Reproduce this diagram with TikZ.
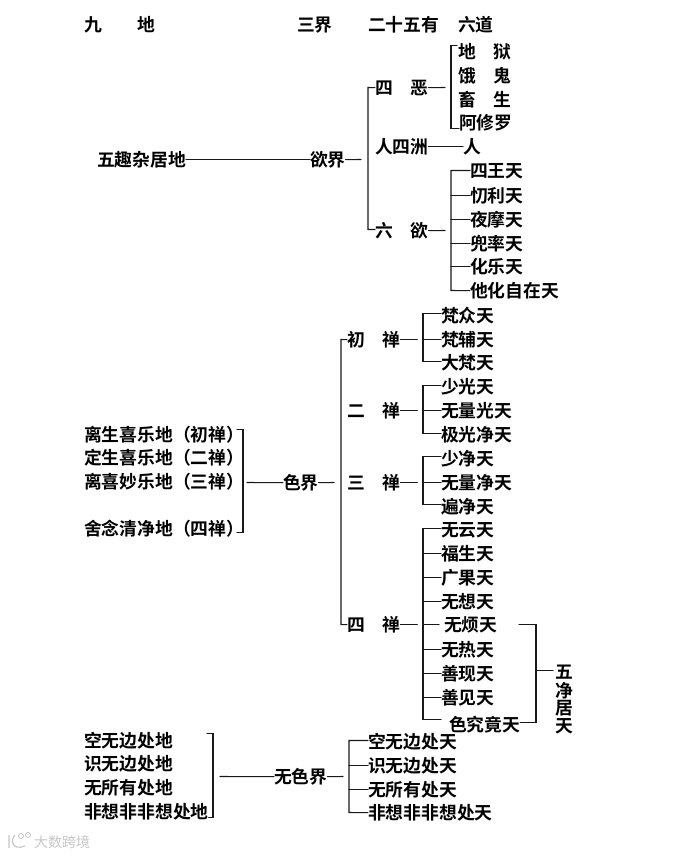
\documentclass[tikz,border=0pt]{standalone}
\usepackage{fontspec}
\setmainfont{Noto Sans CJK SC}[BoldFont={Noto Sans CJK SC Bold}]
\tikzset{x=1pt,y=-1pt,
  lab/.style={anchor=west,inner sep=0pt,outer sep=0pt,yshift=-0.6pt,font=\fontsize{17.8}{18}\selectfont\bfseries,text=black},
  ln/.style={draw=black!90,line width=1.05pt,line cap=round,line join=miter},
  mark gray/.style={anchor=west,inner sep=0pt,font=\fontsize{14}{15}\selectfont,text=black!22}}
\begin{document}
\begin{tikzpicture}
\useasboundingbox[fill=white] (0,0) rectangle (676,856);
% headers
\node[lab] (h1) at (84,24) {九　　地};
\node[lab] (h2) at (297,24) {三界};
\node[lab] (h3) at (368,24) {二十五有};
\node[lab] (h4) at (458,24) {六道};
% desire realm
\node[lab] (wq) at (97,159) {五趣杂居地};
\node[lab] (yj) at (310,159) {欲界};
\node[lab] (se) at (375,87) {四　恶};
\node[lab] (rz) at (375,146) {人四洲};
\node[lab] (ly) at (375,230) {六　欲};
\node[lab] (a1) at (458,51) {地　狱};
\node[lab] (a2) at (458,75) {饿　鬼};
\node[lab] (a3) at (458,99) {畜　生};
\node[lab] (a4) at (459,122) {阿修罗};
\node[lab] (ren) at (463,146) {人};
\node[lab] (b1) at (470,171) {四王天};
\node[lab] (b2) at (470,195) {忉利天};
\node[lab] (b3) at (470,219) {夜摩天};
\node[lab] (b4) at (470,243) {兜率天};
\node[lab] (b5) at (470,266) {化乐天};
\node[lab] (b6) at (470,290) {他化自在天};
\draw[ln] (wq.east) -- (yj.west);
\draw[ln] (yj.east) -- (361,159.5);
\draw[ln] (se.west) -- (368,87.5) -- (368,229.5) -- (ly.west |- 0,229.5);
\draw[ln] (se.east) -- (445,87.5);
\draw[ln] (rz.east) -- (ren.west);
\draw[ln] (ly.east) -- (445,230.5);
\draw[ln] (457,45.5) -- (451,45.5) -- (451,128.5) -- (a4.west |- 0,128.5);
\draw[ln] (b1.west |- 0,170.5) -- (451,170.5) -- (451,290.5) -- (b6.west);
\foreach \n in {b2,b3,b4,b5} \draw[ln] (451,0 |- \n.west) -- (\n.west);
% form realm
\node[lab] (l1) at (84,434) {离生喜乐地（初禅）};
\node[lab] (l2) at (84,457) {定生喜乐地（二禅）};
\node[lab] (l3) at (84,481) {离喜妙乐地（三禅）};
\node[lab] (l4) at (84,528) {舍念清净地（四禅）};
\node[lab] (sj) at (283,482) {色界};
\node[lab] (c1) at (347,339) {初　禅};
\node[lab] (c2) at (347,410) {二　禅};
\node[lab] (c3) at (347,482) {三　禅};
\node[lab] (c4) at (347,624) {四　禅};
\draw[ln] (237,429.5) -- (243,429.5) -- (243,532.5) -- (237,532.5);
\draw[ln] (247,482.5) -- (sj.west);
\draw[ln] (sj.east) -- (334,482.5);
\draw[ln] (c1.west) -- (341,339.5) -- (341,624.5) -- (c4.west);
\foreach \n in {c1,c2,c3,c4} \draw[ln] (\n.east) -- ([xshift=17pt]\n.east);
\foreach \i/\y/\t in {1/315/梵众天,2/339/梵辅天,3/362/大梵天,4/386/少光天,5/410/无量光天,6/434/极光净天,7/458/少净天,8/482/无量净天,9/506/遍净天,10/530/无云天,11/553/福生天,12/577/广果天,13/601/无想天,15/649/无热天,16/673/善现天,17/697/善见天}
  \node[lab] (d\i) at (441,\y) {\t};
\node[lab] (d14) at (444,624) {无烦天};
\node[lab] (d18) at (449,724) {色究竟天};
\draw[ln] (d1.west |- 0,313.5) -- (423,313.5) -- (423,361.5) -- (d3.west |- 0,361.5);
\draw[ln] (423,0 |- d2.west) -- (d2.west);
\draw[ln] (d4.west |- 0,385.5) -- (423,385.5) -- (423,433.5) -- (d6.west |- 0,433.5);
\draw[ln] (423,0 |- d5.west) -- (d5.west);
\draw[ln] (d7.west |- 0,456.5) -- (423,456.5) -- (423,504.5) -- (d9.west |- 0,504.5);
\draw[ln] (423,0 |- d8.west) -- (d8.west);
\draw[ln] (d10.west |- 0,528.5) -- (423,528.5) -- (423,719.5) -- (441,719.5);
\foreach \n in {d11,d12,d13,d15,d16,d17} \draw[ln] (423,0 |- \n.west) -- (\n.west);
\draw[ln] (423,624.5) -- (439,624.5);
% five pure abodes
\node[lab] (p1) at (555,672) {五};
\node[lab] (p2) at (555,690) {净};
\node[lab] (p3) at (555,708) {居};
\node[lab] (p4) at (555,726) {天};
\draw[ln] (519,624.5) -- (536,624.5) -- (536,722.5) -- (d18.east |- 0,722.5);
\draw[ln] (536,670.5) -- (553,670.5);
% formless realm
\node[lab] (e1) at (84,740) {空无边处地};
\node[lab] (e2) at (84,763) {识无边处地};
\node[lab] (e3) at (84,787) {无所有处地};
\node[lab] (e4) at (84,811) {非想非非想处地};
\node[lab] (wsj) at (274,776) {无色界};
\node[lab] (f1) at (368,741) {空无边处天};
\node[lab] (f2) at (368,765) {识无边处天};
\node[lab] (f3) at (368,789) {无所有处天};
\node[lab] (f4) at (368,812) {非想非非想处天};
\draw[ln] (207,733.5) -- (213,733.5) -- (213,817.5) -- (e4.east |- 0,817.5);
\draw[ln] (220,776.5) -- (wsj.west);
\draw[ln] (wsj.east) -- (343,776.5);
\draw[ln] (f1.west |- 0,740.5) -- (349,740.5) -- (349,812.5) -- (f4.west);
\foreach \n in {f2,f3} \draw[ln] (349,0 |- \n.west) -- (\n.west);
% watermark
\node[mark gray] (wm) at (34,842) {大数跨境};
\draw[black!22,line width=1.2pt] (9,835) -- (9,848) (15,835) .. controls (10,840) and (12,851) .. (25,846);
\draw[black!22,line width=0.9pt] (21,836) circle (2.5) (28,835) circle (2.5);
\end{tikzpicture}
\end{document}
